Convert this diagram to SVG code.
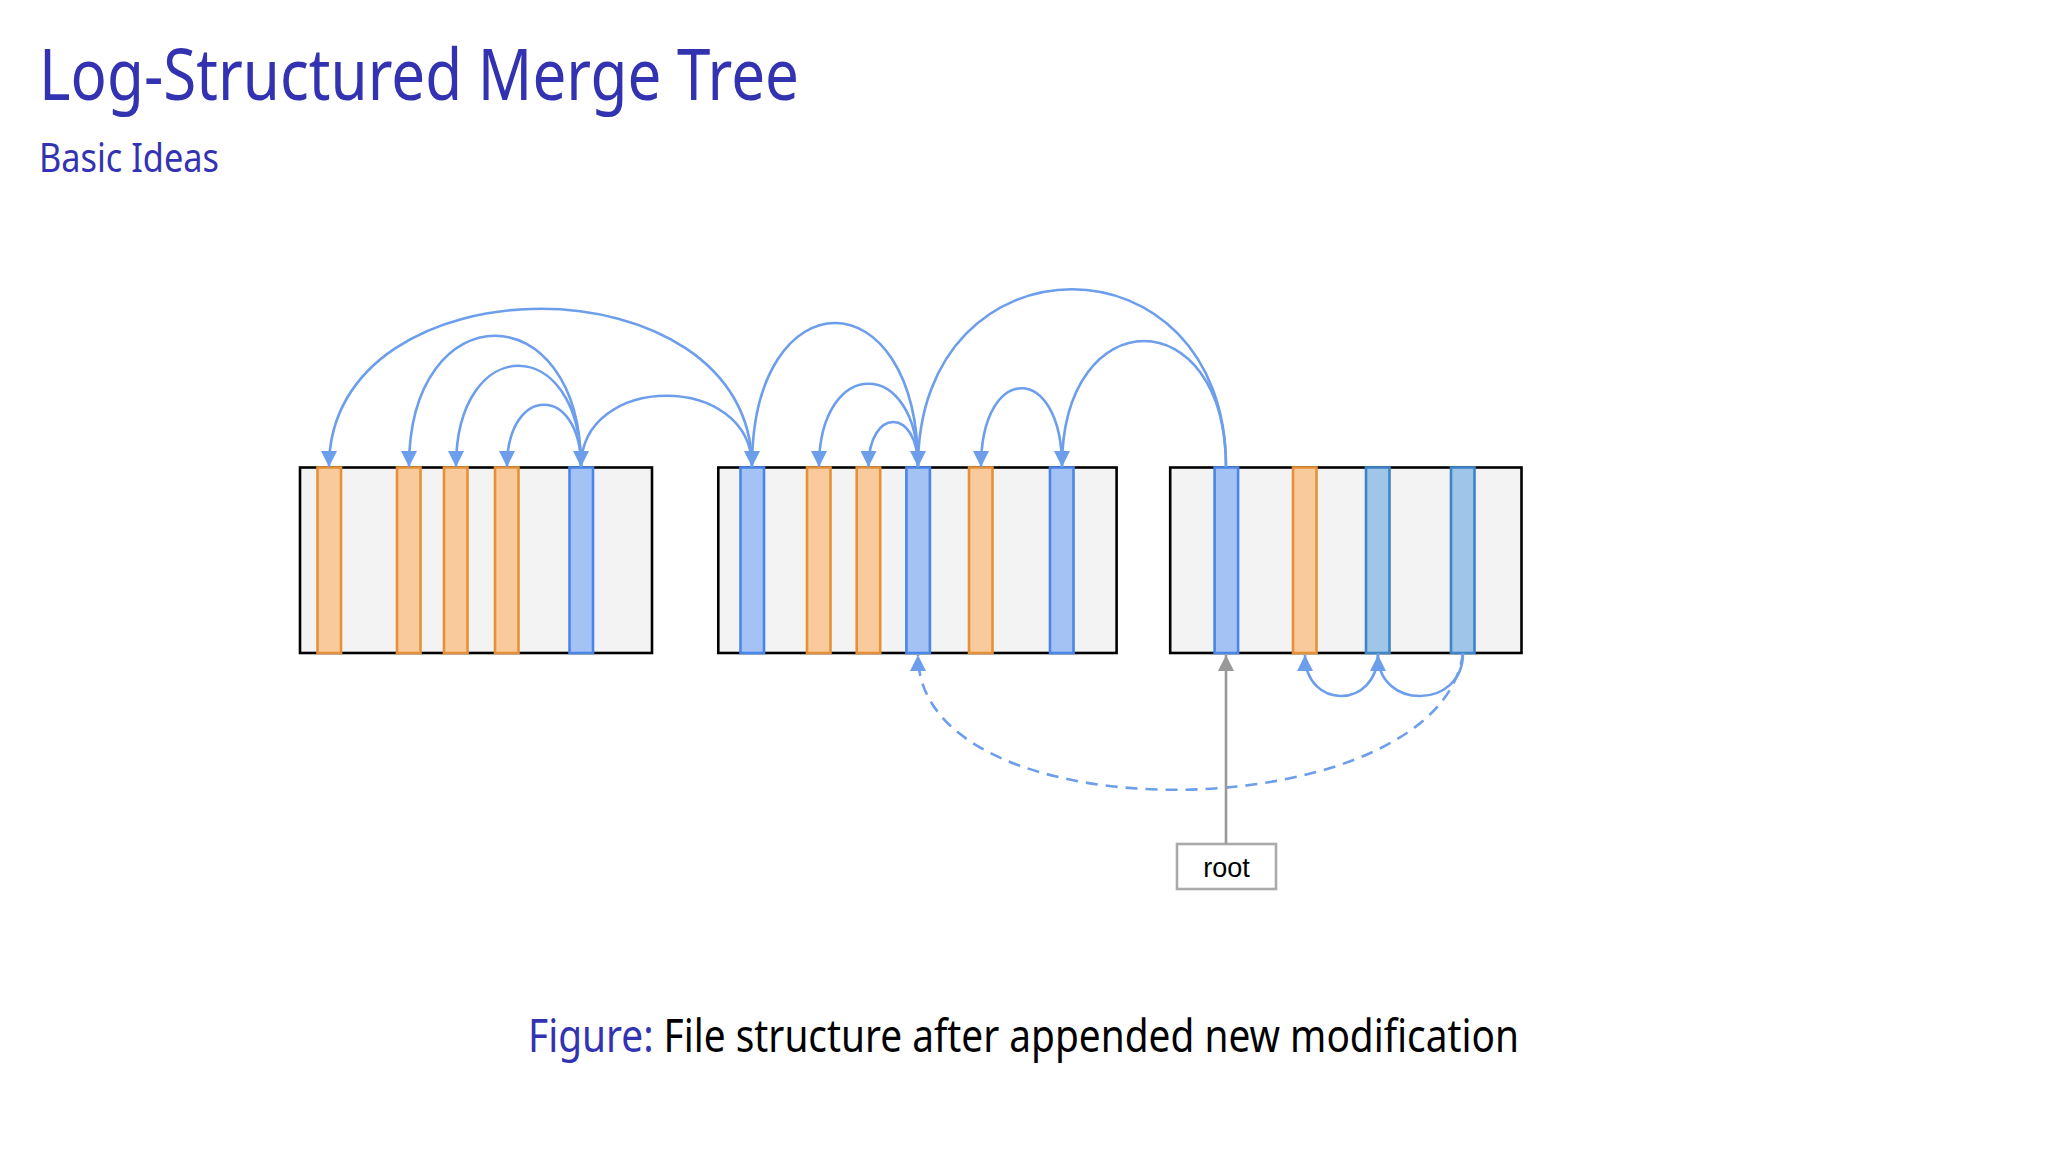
<svg xmlns="http://www.w3.org/2000/svg" width="2048" height="1152" viewBox="0 0 2048 1152">
<style>
.t{font-family:"Noto Sans","Open Sans",sans-serif;fill:#3333b2}
.box{fill:#f3f3f4;stroke:#000;stroke-width:2.6}
.o{fill:#f9cb9c;stroke:#e69138;stroke-width:2.6}
.b{fill:#a4c2f4;stroke:#4a86e8;stroke-width:2.6}
.s{fill:#9fc5e8;stroke:#3d85c6;stroke-width:2.6}
.a{fill:none;stroke:#6d9eeb;stroke-width:2.6;marker-end:url(#ah)}
</style>
<defs>
<marker id="ah" markerWidth="18" markerHeight="16" refX="16" refY="8" orient="auto" markerUnits="userSpaceOnUse"><path d="M0,0 L16,8 L0,16 Z" fill="#6d9eeb"/></marker>
<marker id="gh" markerWidth="18" markerHeight="16" refX="16" refY="8" orient="auto" markerUnits="userSpaceOnUse"><path d="M0,0 L16,8 L0,16 Z" fill="#999"/></marker>
</defs>
<rect width="2048" height="1152" fill="#fff"/>
<text class="t" x="39" y="100" font-size="72" textLength="760" lengthAdjust="spacingAndGlyphs">Log-Structured Merge Tree</text>
<text class="t" x="39" y="172" font-size="40" textLength="180" lengthAdjust="spacingAndGlyphs">Basic Ideas</text>
<g id="file1">
<rect class="box" x="300" y="467.5" width="352" height="185.5"/>
<rect class="o" x="317.5" y="467.5" width="23.5" height="185.5"/>
<rect class="o" x="397" y="467.5" width="23.5" height="185.5"/>
<rect class="o" x="444" y="467.5" width="23.5" height="185.5"/>
<rect class="o" x="495" y="467.5" width="23.5" height="185.5"/>
<rect class="b" x="569.5" y="467.5" width="23.5" height="185.5"/>
</g>
<g id="file2">
<rect class="box" x="718.3" y="467.5" width="398.3" height="185.5"/>
<rect class="b" x="740.5" y="467.5" width="23.5" height="185.5"/>
<rect class="o" x="807" y="467.5" width="23.5" height="185.5"/>
<rect class="o" x="856.7" y="467.5" width="23.5" height="185.5"/>
<rect class="b" x="906.4" y="467.5" width="23.5" height="185.5"/>
<rect class="o" x="969" y="467.5" width="23.5" height="185.5"/>
<rect class="b" x="1050" y="467.5" width="23.5" height="185.5"/>
</g>
<g id="file3">
<rect class="box" x="1170.2" y="467.5" width="351.3" height="185.5"/>
<rect class="b" x="1214.6" y="467.5" width="23.5" height="185.5"/>
<rect class="o" x="1293" y="467.5" width="23.5" height="185.5"/>
<rect class="s" x="1366" y="467.5" width="23.5" height="185.5"/>
<rect class="s" x="1451" y="467.5" width="23.5" height="185.5"/>
</g>
<g id="root">
<rect x="1177" y="844" width="99" height="45" fill="#fff" stroke="#aaa" stroke-width="2.6"/>
<text x="1226.5" y="877" font-family="Liberation Sans,Arial,sans-serif" font-size="27" text-anchor="middle" fill="#000">root</text>
</g>
<g id="connectors">
<path class="a" d="M752,467 C752,256 329,256 329,467"/>
<path class="a" d="M581,467 C581,292 409,292 409,467"/>
<path class="a" d="M581,467 C581,332 456,332 456,467"/>
<path class="a" d="M581,467 C581,384 507,384 507,467"/>
<path class="a" d="M752,467 C752,372 581,372 581,467"/>
<path class="a" d="M918,467 C918,275 752,275 752,467"/>
<path class="a" d="M918,467 C918,356 819,356 819,467"/>
<path class="a" d="M918,467 C918,407 868.5,407 868.5,467"/>
<path class="a" d="M1226,467 C1226,230 918,230 918,467"/>
<path class="a" d="M1062,467 C1062,362 981,362 981,467"/>
<path class="a" d="M1226,467 C1226,299 1062,299 1062,467"/>
<path class="a" d="M1463,653 C1463,710 1378,710 1378,655"/>
<path class="a" d="M1378,653 C1378,710 1305,710 1305,655"/>
<path class="a" stroke-dasharray="12,8" d="M1463,653 C1440,830 918,840 918,655"/>
<path d="M1226,844 L1226,655" stroke="#999" stroke-width="2.6" marker-end="url(#gh)"/>
</g>
<text x="528" y="1052" font-family="Noto Sans,Open Sans,sans-serif" font-size="46" textLength="991" lengthAdjust="spacingAndGlyphs" fill="#000"><tspan fill="#3333b2">Figure:</tspan> File structure after appended new modification</text>
</svg>
